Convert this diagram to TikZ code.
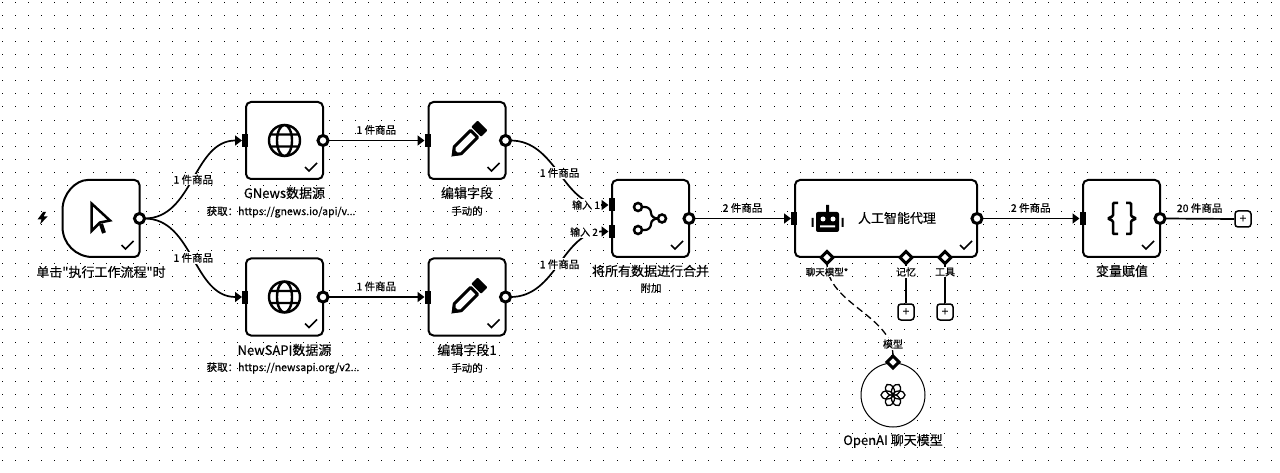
\documentclass[tikz,border=0pt]{standalone}
\usepackage{fontspec}
\setmainfont{Noto Sans CJK SC}[Ligatures=TeXOff]
\newfontfamily\heavyfont{Noto Sans CJK SC}[Ligatures=TeXOff,FakeBold=0.3]
\usetikzlibrary{arrows.meta,shapes.geometric}
\tikzset{
  stepbox/.style={draw, line width=2, rounded corners=5, minimum size=77, fill=white, inner sep=0, outer sep=0},
  outport/.style={draw, circle, line width=3, fill=white, minimum size=10, inner sep=0, outer sep=0},
  inport/.style={fill=black, minimum width=6, minimum height=13, inner sep=0, outer sep=0},
  subport/.style={draw, diamond, line width=3, fill=white, minimum size=12, inner sep=0, outer sep=0},
  plusbox/.style={draw, line width=1.5, rounded corners=3, minimum size=16, fill=white, inner sep=0, font=\heavyfont\fontsize{12}{12}\selectfont},
  link/.style={line width=1.7, -{Triangle[length=7,width=10]}},
  plainlink/.style={line width=1.7},
  title/.style={font=\heavyfont\fontsize{13}{15}\selectfont, inner sep=0},
  subtitle/.style={font=\heavyfont\fontsize{10.5}{12}\selectfont, inner sep=0},
  count/.style={font=\heavyfont\fontsize{10.5}{12}\selectfont, inner sep=1, fill=white},
  countup/.style={font=\heavyfont\fontsize{10.5}{12}\selectfont, inner sep=0, above=5},
  portlabel/.style={font=\heavyfont\fontsize{10}{12}\selectfont, inner sep=1, fill=white},
  tickmark/.pic={\draw[line width=1.5] (-6,0) -- (-2,4) -- (6,-4);},
  globe/.pic={\draw[line width=2.4] (0,0) circle (15.5) (0,0) ellipse (7.5 and 15.5) (-14,-6) -- (14,-6) (-14,6) -- (14,6);},
  pencil/.pic={
    \draw[line width=3, line join=round] (-19,0) -- (-13,-5) -- (10,-5) -- (10,5) -- (-13,5) -- cycle;
    \fill (-22,0) -- (-15,-5) -- (-15,5) -- cycle;
    \fill[rounded corners=1] (13,-7) rectangle (22,7);},
}
\begin{document}
\begin{tikzpicture}[x=1pt,y=-1pt]
\useasboundingbox (0,0) rectangle (1280,473);
\fill[white] (0,0) rectangle (1280,473);
% dot grid
\foreach \i in {0,...,97}
  \foreach \j in {0,...,35}
    \fill ({1.8+13.08*\i},{1.8+13.08*\j}) rectangle +(1,1);

% boxes
\node[minimum size=77, inner sep=0, outer sep=0] (trigger) at (101,218.5) {};
\draw[line width=2, fill=white] ([xshift=30pt]trigger.north west) arc[start angle=90, end angle=180, radius=30pt] -- ([yshift=30pt]trigger.south west) arc[start angle=180, end angle=270, radius=30pt] [rounded corners=5] -- (trigger.south east) -- (trigger.north east) -- cycle;
\node[stepbox] (gnews) at (284.5,140.5) {};
\node[stepbox] (newsapi) at (284.5,297) {};
\node[stepbox] (edit) at (467,140.5) {};
\node[stepbox] (editone) at (467,297) {};
\node[stepbox] (merge) at (650.5,218.5) {};
\node[stepbox, minimum width=182] (agent) at (886,218.5) {};
\node[stepbox] (assign) at (1121.5,218.5) {};
\node[draw, circle, line width=1, minimum size=64, inner sep=0, fill=white] (openai) at (893,395) {};

% ports
\foreach \n in {trigger,gnews,newsapi,edit,editone,merge,agent,assign}
  \node[outport] (\n out) at (\n.east) {};
\foreach \n in {gnews,newsapi,edit,editone,agent}
  \node[inport] (\n in) at ([xshift=-1]\n.west) {};
\node[inport] (mergeina) at (611.5,205) {};
\node[inport] (mergeinb) at (611.5,231.5) {};
\node[inport] (assignin) at (1082.5,218.5) {};
\node[subport] (agentchat) at (827,257.5) {};
\node[subport] (agentmem) at (906,257.5) {};
\node[subport] (agenttool) at (945,257.5) {};
\node[subport] (openaimodel) at (893,362) {};
\node[plusbox] (plusmem) at (906,312) {+};
\node[plusbox] (plustool) at (945,312) {+};
\node[plusbox] (plusend) at (1243,219) {+};

% connectors
\draw[link] (triggerout.east) to[out=0,in=180] node[count, pos=.5] {1 件商品} (gnewsin.west);
\draw[link] (triggerout.east) to[out=0,in=180] node[count, pos=.5] {1 件商品} (newsapiin.west);
\draw[link] (gnewsout.east) -- node[countup] {1 件商品} (editin.west);
\draw[link] (newsapiout.east) -- node[countup] {1 件商品} (editonein.west);
\draw[link] (editout.east) to[out=0,in=180] node[count, pos=.5] {1 件商品} (mergeina.west);
\draw[link] (editoneout.east) to[out=0,in=180] node[count, pos=.5] {1 件商品} (mergeinb.west);
\draw[link] (mergeout.east) -- node[countup] {2 件商品} (agentin.west);
\draw[link] (agentout.east) -- node[countup] {2 件商品} (assignin.west);
\draw[plainlink] (assignout.east) -- node[countup] {20 件商品} (plusend.west);
\draw[plainlink] (agentmem.south) -- (plusmem.north);
\draw[plainlink] (agenttool.south) -- (plustool.north);
\draw[line width=1.3, dash pattern=on 7pt off 4pt] (agentchat.south) to[out=-90,in=90,looseness=.9] (openaimodel.north);

% port labels
\node[portlabel] (labela) at (586,205) {输入 1};
\node[portlabel] (labelb) at (584,232) {输入 2};
\node[portlabel, font=\heavyfont\fontsize{9.5}{11}\selectfont] (labelchat) at (827,272) {聊天模型*};
\node[portlabel] (labelmem) at (906,272) {记忆};
\node[portlabel] (labeltool) at (945,272) {工具};
\node[portlabel] (labelmodel) at (893,344) {模型};

% titles
\node[title] (ttrigger) at (101,272) {单击"执行工作流程"时};
\node[title] (tgnews) at (284.5,193) {GNews数据源};
\node[subtitle] (sgnews) at (281,212) {获取：https://gnews.io/api/v...};
\node[title] (tnewsapi) at (284.5,350) {NewSAPI数据源};
\node[subtitle] (snewsapi) at (283,368) {获取：https://newsapi.org/v2...};
\node[title] (tedit) at (467,193) {编辑字段};
\node[subtitle] (sedit) at (467,211) {手动的};
\node[title] (teditone) at (467,350) {编辑字段1};
\node[subtitle] (seditone) at (467,368) {手动的};
\node[title] (tmerge) at (650.5,271) {将所有数据进行合并};
\node[subtitle] (smerge) at (651,288) {附加};
\node[title] (tagent) at (897,218) {人工智能代理};
\node[title] (tassign) at (1122,271) {变量赋值};
\node[title] (topenai) at (893,441) {OpenAI 聊天模型};

% ticks
\foreach \n in {trigger,gnews,newsapi,edit,editone,merge,assign}
  \pic at ([shift={(26.5,26.5)}]\n.center) {tickmark};
\pic at ([shift={(-11,-12)}]agent.south east) {tickmark};

% icons
\fill (43,212) -- (37.5,219.5) -- (41.5,219.5) -- (40,224.5) -- (47.5,216.5) -- (43.5,216.5) -- (46,212) -- cycle;
\draw[line width=2.5, miter limit=10] (91.5,203.5) -- (110,220.5) -- (100,222.5) -- (91.5,231) -- cycle;
\draw[line width=4] (101,224) -- (104,233);
\pic at (gnews.center) {globe};
\pic at (newsapi.center) {globe};
\pic[rotate=45] at (467,141) {pencil};
\pic[rotate=45] at (467,298) {pencil};
% merge icon
\draw[line width=2.5] (638,207) circle (4) (638,230) circle (4) (662,218.5) circle (4);
\draw[line width=2.2] (642,207) -- (645,207) to[out=0,in=90] (651,213) to[out=-90,in=180] (658,218.5);
\draw[line width=2.2] (642,230) -- (645,230) to[out=0,in=-90] (651,224) to[out=90,in=180] (658,218.5);
% robot icon
\fill[rounded corners=2] (816,212) rectangle (839,232);
\fill (826,205) rectangle (829,212) (811.5,218) rectangle (813.5,227) (841.5,218) rectangle (843.5,227);
\fill[white] (823,219) circle (2.5) (833,219) circle (2.5) (820,225.5) rectangle (835,227.5);
% braces icon
\draw[line width=2.5, rounded corners=1] (1118,203) -- (1113,203) -- (1113,216) -- (1108,218.5) -- (1113,221) -- (1113,234) -- (1118,234);
\draw[line width=2.5, rounded corners=1] (1126,203) -- (1131,203) -- (1131,216) -- (1136,218.5) -- (1131,221) -- (1131,234) -- (1126,234);
% openai icon
\foreach \a in {0,60,...,300}
  \draw[line width=1.3, rotate around={\a:(893,395)}] (899,395) ellipse (6 and 4);
\end{tikzpicture}
\end{document}
